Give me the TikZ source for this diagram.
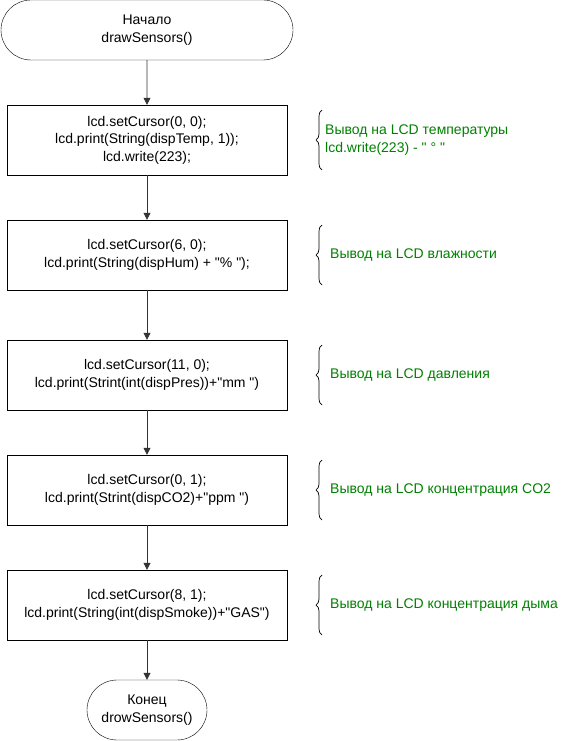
\documentclass[tikz,border=0pt]{standalone}
\usepackage{fontspec}
\setmainfont{Liberation Sans}
\usetikzlibrary{shapes.misc,arrows.meta,decorations.pathreplacing}
\definecolor{notegreen}{RGB}{0,128,0}
\newcommand{\qt}{\textquotedbl}
\tikzset{
  terminal/.style={draw,rounded rectangle,minimum height=60pt,align=center,
    font=\fontsize{14}{17.5}\selectfont,inner sep=0pt},
  stepbox/.style={draw,rectangle,minimum width=280pt,minimum height=70pt,align=center,
    font=\fontsize{14}{17.5}\selectfont,inner sep=0pt},
  note/.style={anchor=west,align=left,text=notegreen,font=\fontsize{14}{18}\selectfont,inner sep=0pt},
  flow/.style={-{Triangle[length=7pt,width=7pt]},line width=0.8pt,black!80},
  curly/.style={decorate,decoration={brace,mirror,amplitude=6pt},line width=0.7pt}
}
\begin{document}
\begin{tikzpicture}[x=1pt,y=1pt]
      \useasboundingbox (0,0) rectangle (579,-741);

      \node[terminal,minimum width=292pt] (start) at (147,-30) {Начало\\drawSensors()};
      \node[stepbox] (temp) at (147,-140) {lcd.setCursor(0, 0);\\lcd.print(String(dispTemp, 1));\\lcd.write(223);};
      \node[stepbox] (hum) at (147,-255) {lcd.setCursor(6, 0);\\lcd.print(String(dispHum) + \qt\% \qt);};
      \node[stepbox] (pres) at (147,-375) {lcd.setCursor(11, 0);\\lcd.print(Strint(int(dispPres))+\qt mm \qt)};
      \node[stepbox] (co2) at (147,-490) {lcd.setCursor(0, 1);\\lcd.print(Strint(dispCO2)+\qt ppm \qt)};
      \node[stepbox] (smoke) at (147,-605) {lcd.setCursor(8, 1);\\lcd.print(String(int(dispSmoke))+\qt GAS\qt)};
      \node[terminal,minimum width=120pt] (stop) at (147,-710) {Конец\\drowSensors()};

      \draw[flow] (start) -- (temp);
      \draw[flow] (temp) -- (hum);
      \draw[flow] (hum) -- (pres);
      \draw[flow] (pres) -- (co2);
      \draw[flow] (co2) -- (smoke);
      \draw[flow] (smoke) -- (stop);

      % comments on the right
      \draw[curly] (322,-110) -- (322,-170);
      \node[note] (tempnote) at (325,-140) {Вывод на LCD температуры\\lcd.write(223) - \qt{} ° \qt};
      \draw[curly] (322,-225) -- (322,-285);
      \node[note] (humnote) at (330,-255) {Вывод на LCD влажности};
      \draw[curly] (322,-345) -- (322,-405);
      \node[note] (presnote) at (330,-375) {Вывод на LCD давления};
      \draw[curly] (322,-460) -- (322,-520);
      \node[note] (co2note) at (330,-490) {Вывод на LCD концентрация CO2};
      \draw[curly] (322,-575) -- (322,-635);
      \node[note] (smokenote) at (330,-605) {Вывод на LCD концентрация дыма};
    \end{tikzpicture}
\end{document}
